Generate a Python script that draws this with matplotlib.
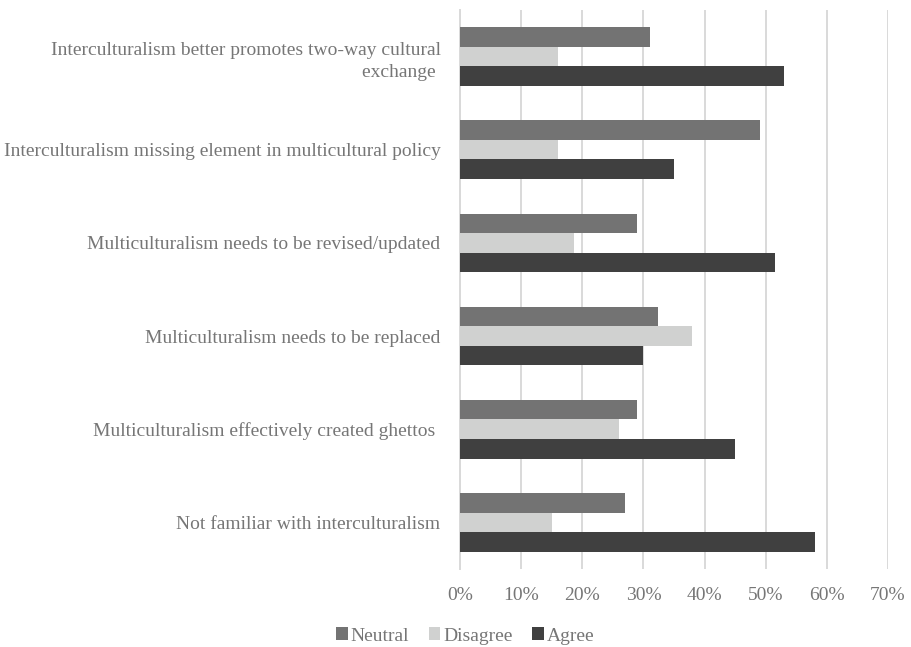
import numpy as np
import matplotlib.pyplot as plt
from matplotlib.ticker import PercentFormatter

plt.rcParams["font.family"] = ["Liberation Serif", "DejaVu Serif"]

statements = [
    "Interculturalism better promotes two-way cultural\nexchange ",
    "Interculturalism missing element in multicultural policy",
    "Multiculturalism needs to be revised/updated",
    "Multiculturalism needs to be replaced",
    "Multiculturalism effectively created ghettos ",
    "Not familiar with interculturalism",
]
neutral = [31, 49, 29, 32.3, 29, 27]
disagree = [16, 16, 18.6, 38, 26, 15]
agree = [53, 35, 51.5, 30, 45, 58]

series = [
    ("Neutral", neutral, "#737373"),
    ("Disagree", disagree, "#d0d1d0"),
    ("Agree", agree, "#404040"),
]

TEXT = "#767676"
GRID = "#d9d9d9"
FS = 14

fig = plt.figure(figsize=(9.12, 6.47), dpi=100)
ax = fig.add_axes([0.5044, 0.1206, 0.4693, 0.864])

n = len(statements)
centers = np.arange(n)[::-1].astype(float)
h = 0.21
for k, (name, vals, col) in enumerate(series):
    ax.barh(centers + (1 - k) * h, vals, height=h, color=col, label=name,
            zorder=3)

ax.set_xlim(0, 70)
ax.set_ylim(-0.5, n - 0.5)
ax.set_xticks(np.arange(0, 71, 10))
ax.xaxis.set_major_formatter(PercentFormatter(decimals=0))
ax.set_yticks(centers)
ax.set_yticklabels(statements, ha="right", linespacing=1.4)
ax.grid(axis="x", color=GRID, linewidth=1.4, zorder=0)
for s in ["top", "right", "bottom"]:
    ax.spines[s].set_visible(False)
ax.spines["left"].set_color(GRID)
ax.spines["left"].set_linewidth(1.4)
ax.tick_params(axis="both", length=0, colors=TEXT, labelsize=FS)
ax.tick_params(axis="y", pad=14)
ax.tick_params(axis="x", pad=13)

ax.legend(loc="center", bbox_to_anchor=(0.51, 0.017), bbox_transform=fig.transFigure,
          ncol=3, frameon=False, fontsize=FS, labelcolor=TEXT,
          handlelength=0.6, handleheight=0.6, handletextpad=0.15,
          columnspacing=1.0)

fig.savefig("out.png", dpi=100)
